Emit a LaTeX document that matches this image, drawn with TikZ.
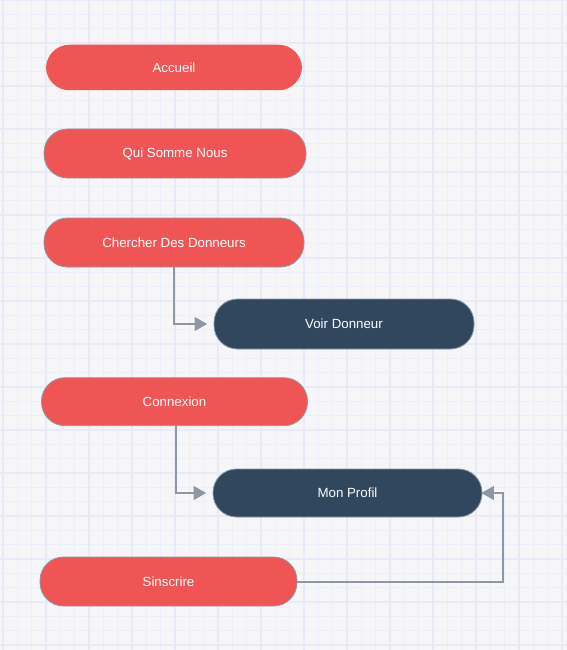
\documentclass[tikz,border=0pt]{standalone}
\usepackage{fontspec}
\setmainfont{Liberation Sans}
\usetikzlibrary{arrows.meta}
\definecolor{bgc}{HTML}{F6F6F9}
\definecolor{gridc}{HTML}{E8EBF7}
\definecolor{gridm}{HTML}{EDEFF8}
\definecolor{redc}{HTML}{F05556}
\definecolor{navyc}{HTML}{30475E}
\definecolor{edgec}{HTML}{8D98A4}
\tikzset{
  minorline/.style={draw=gridm, line width=1pt},
  medline/.style={draw=gridc, line width=1.5pt},
  majline/.style={draw=gridc, line width=2pt},
  redbox/.style={rectangle, fill=redc, draw=edgec, line width=0.8pt, rounded corners=23.5pt, text=white, font=\fontsize{13.3}{15}\selectfont, inner sep=0pt},
  navybox/.style={rectangle, fill=navyc, draw=edgec, line width=0.8pt, rounded corners=23.5pt, text=white, font=\fontsize{13.3}{15}\selectfont, inner sep=0pt},
  conn/.style={draw=edgec, line width=1.3pt, -{Triangle[length=12.5pt,width=14pt]}},
}
\begin{document}
\begin{tikzpicture}[x=1pt,y=-1pt]
\useasboundingbox (0,0) rectangle (567,650);
\fill[bgc] (0,0) rectangle (567,650);
% grid
\foreach \k in {0,...,39} {
  \draw[minorline] ({3+14.333*\k},0) -- ({3+14.333*\k},650);
}
\foreach \k in {0,...,45} {
  \draw[minorline] (0,{14.333*\k}) -- (567,{14.333*\k});
}
\foreach \k in {0,...,13} {
  \draw[medline] ({3+43*\k},0) -- ({3+43*\k},650);
}
\foreach \k in {0,...,15} {
  \draw[medline] (0,{43*\k}) -- (567,{43*\k});
}
\foreach \k in {0,...,6} {
  \draw[majline] ({46+86*\k},0) -- ({46+86*\k},650);
}
\foreach \k in {0,...,7} {
  \draw[majline] (0,{86*\k}) -- (567,{86*\k});
}
% nodes
\node[redbox, draw=none, minimum width=256pt, minimum height=45.5pt] (acc) at (174,67.5) {Accueil};
\node[redbox, minimum width=262pt, minimum height=49pt] (qui) at (175,153.5) {Qui Somme Nous};
\node[redbox, minimum width=260pt, minimum height=49pt] (cher) at (174,242.5) {Chercher Des Donneurs};
\node[navybox, minimum width=260pt, minimum height=50pt] (voir) at (344,324) {Voir Donneur};
\node[redbox, minimum width=266pt, minimum height=48pt] (conn) at (174.5,401.7) {Connexion};
\node[navybox, minimum width=269pt, minimum height=48pt] (prof) at (347.5,493) {Mon Profil};
\node[redbox, minimum width=257pt, minimum height=49pt] (sins) at (168.5,581.5) {Sinscrire};
% connectors
\coordinate (c1) at (174,324);
\coordinate (c2) at (176,493);
\coordinate (c3) at (503,582);
\coordinate (c4) at (503,493);
\draw[conn, shorten >=6.5pt] (cher.south -| c1) -- (c1) -- (voir.west);
\draw[conn, shorten >=6.5pt] (conn.south -| c2) -- (c2) -- (prof.west);
\draw[conn, shorten >=-1pt] (sins.east |- c3) -- (c3) -- (c4) -- (prof.east);
\end{tikzpicture}
\end{document}
